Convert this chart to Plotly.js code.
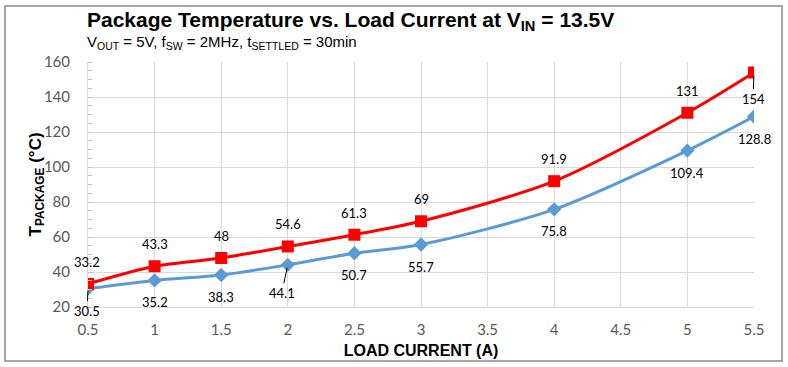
<!DOCTYPE html>
<html>
<head>
<meta charset="utf-8">
<script src="https://cdn.plot.ly/plotly-3.0.1.min.js"></script>
<style>
  html, body { margin: 0; padding: 0; background: #fff; }
  #chart { width: 788px; height: 367px; }
</style>
</head>
<body>
<div id="chart"></div>
<script>
// ---- Data ----
const loadCurrent = [0.5, 1, 1.5, 2, 2.5, 3, 4, 5, 5.5];
const tempUpper   = [33.2, 43.3, 48, 54.6, 61.3, 69, 91.9, 131, 154];
const tempLower   = [30.5, 35.2, 38.3, 44.1, 50.7, 55.7, 75.8, 109.4, 128.8];
const xTicks = [0.5, 1, 1.5, 2, 2.5, 3, 3.5, 4, 4.5, 5, 5.5];
const yTicks = [20, 40, 60, 80, 100, 120, 140, 160];

const RED = '#FF0000';
const BLUE = '#5B9BD5';
const labelFont = { family: 'Lato, "Liberation Sans", sans-serif', size: 13, color: '#000' };

const traces = [
  {
    x: loadCurrent, y: tempLower, name: 'Lower', type: 'scatter', mode: 'lines+markers',
    line: { color: BLUE, width: 3, shape: 'spline', smoothing: 0.8 },
    marker: { symbol: 'diamond', size: 11, color: BLUE },
    hoverinfo: 'x+y'
  },
  {
    x: loadCurrent, y: tempUpper, name: 'Upper', type: 'scatter', mode: 'lines+markers',
    line: { color: RED, width: 3, shape: 'spline', smoothing: 0.8 },
    marker: { symbol: 'square', size: 12, color: RED },
    hoverinfo: 'x+y'
  }
];

// data labels: red above, blue below; a few use leader lines
const annotations = [];
loadCurrent.forEach((xv, i) => {
  // upper (red)
  if (i === loadCurrent.length - 1) {
    annotations.push({ x: xv, y: tempUpper[i], xref: 'x', yref: 'y', text: String(tempUpper[i]),
      showarrow: true, arrowhead: 0, arrowwidth: 1, arrowcolor: '#000', ax: -1, ay: 26,
      standoff: 3, font: labelFont });
  } else {
    annotations.push({ x: xv, y: tempUpper[i], xref: 'x', yref: 'y', text: String(tempUpper[i]),
      showarrow: false, yshift: 22, xshift: i === 0 ? -1 : 0, font: labelFont });
  }
  // lower (blue)
  if (i === 0) {
    annotations.push({ x: xv, y: tempLower[i], xref: 'x', yref: 'y', text: String(tempLower[i]),
      showarrow: true, arrowhead: 0, arrowwidth: 1, arrowcolor: '#000', ax: -1, ay: 22,
      standoff: 2, font: labelFont });
  } else if (i === 3) {
    annotations.push({ x: xv, y: tempLower[i], xref: 'x', yref: 'y', text: String(tempLower[i]),
      showarrow: true, arrowhead: 0, arrowwidth: 1, arrowcolor: '#000', ax: -6, ay: 28,
      standoff: 3, font: labelFont });
  } else {
    annotations.push({ x: xv, y: tempLower[i], xref: 'x', yref: 'y', text: String(tempLower[i]),
      showarrow: false, yshift: -22, font: labelFont });
  }
});

// titles
annotations.push({
  xref: 'paper', yref: 'paper', x: 0, y: 1.166, xanchor: 'left', yanchor: 'middle', showarrow: false,
  xshift: -3,
  text: '<b>Package Temperature vs. Load Current at V<sub>IN</sub> = 13.5V</b>',
  font: { family: 'Arial, "Liberation Sans", sans-serif', size: 21, color: '#000' }
});
annotations.push({
  xref: 'paper', yref: 'paper', x: 0, y: 1.078, xanchor: 'left', yanchor: 'middle', showarrow: false,
  xshift: -3,
  text: 'V<sub>OUT</sub> = 5V, f<sub>SW</sub> = 2MHz, t<sub>SETTLED</sub> = 30min',
  font: { family: 'Arial, "Liberation Sans", sans-serif', size: 15, color: '#000' }
});
// y axis title (rotated)
annotations.push({
  xref: 'paper', yref: 'paper', x: (36 - 88) / 666, y: 0.5, xanchor: 'center', yanchor: 'middle',
  showarrow: false, textangle: -90,
  text: '<b>T<sub>PACKAGE</sub> (°C)</b>',
  font: { family: 'Arial, "Liberation Sans", sans-serif', size: 17, color: '#000' }
});

const layout = {
  width: 788, height: 367,
  margin: { l: 88, r: 34, t: 62, b: 60 },
  paper_bgcolor: '#fff', plot_bgcolor: '#fff',
  showlegend: false,
  xaxis: {
    range: [0.5, 5.5], tickvals: xTicks, ticktext: xTicks.map(String),
    showgrid: true, gridcolor: '#D9D9D9', gridwidth: 1,
    showline: true, linecolor: '#D9D9D9', linewidth: 1,
    ticks: '', zeroline: false,
    tickfont: { family: 'Lato, "Liberation Sans", sans-serif', size: 15, color: '#595959' },
    ticklabelstandoff: 9,
    title: { text: '<b>LOAD CURRENT (A)</b>', standoff: 7,
      font: { family: 'Arial, "Liberation Sans", sans-serif', size: 16, color: '#000' } }
  },
  yaxis: {
    range: [20, 160], tickvals: yTicks, ticktext: yTicks.map(String),
    showgrid: true, gridcolor: '#D9D9D9', gridwidth: 1,
    showline: true, linecolor: '#D9D9D9', linewidth: 1,
    ticks: '', zeroline: false,
    minor: { dtick: 5, tick0: 20, ticks: 'inside', ticklen: 4, tickcolor: '#BFBFBF', showgrid: false },
    tickfont: { family: 'Lato, "Liberation Sans", sans-serif', size: 15, color: '#595959' },
    ticklabelstandoff: 14
  },
  annotations: annotations,
  shapes: [{
    type: 'rect', xref: 'paper', yref: 'paper',
    x0: (5 - 88) / 666, x1: (782 - 88) / 666,
    y0: -(361 - 307) / 245, y1: 1 + (62 - 6) / 245,
    line: { color: '#898989', width: 1.5 }, fillcolor: 'rgba(0,0,0,0)', layer: 'below'
  }]
};

Plotly.newPlot('chart', traces, layout, { displayModeBar: false, staticPlot: true });
</script>
</body>
</html>
